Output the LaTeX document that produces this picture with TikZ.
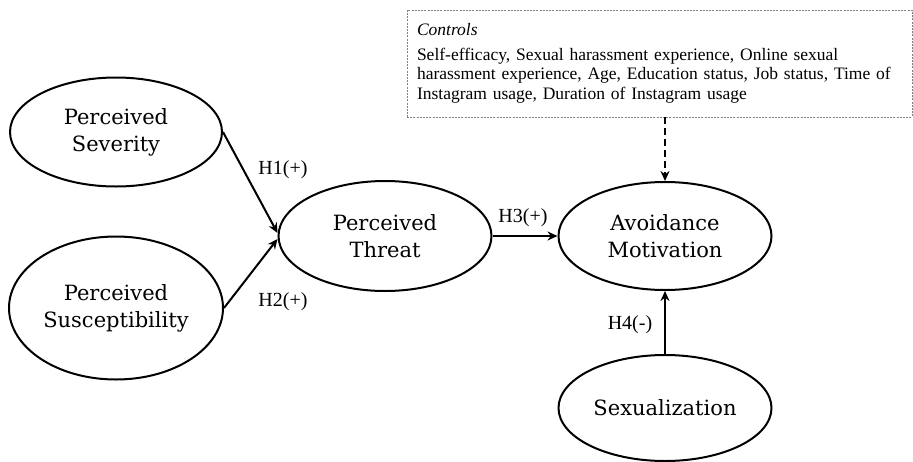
\documentclass[tikz,border=0pt]{standalone}
\usepackage{fontspec}
\setmainfont{Liberation Serif}
\newfontfamily\ovalfont{DejaVu Serif}
\usetikzlibrary{arrows.meta}
\usetikzlibrary{shapes.geometric}

\begin{document}
\begin{tikzpicture} [x=1pt, y=-1pt, line width=2pt, >={Stealth[length=10pt, width=9pt]},
  oval/.style={draw, ellipse, inner sep=0, align=center,
    font=\ovalfont\fontsize{21}{27}\selectfont},
  hyp/.style={font=\fontsize{20}{24}\selectfont, inner sep=1},
  ctrlbox/.style={draw=gray, line width=.8pt, dash pattern=on 2pt off 1.2pt,
    minimum width=505, minimum height=107, align=left, text width=485,
    font=\fontsize{17.5}{19.5}\selectfont}]
\useasboundingbox (0,0) rectangle (913,461);
% latent variables
\node[oval, minimum width=212, minimum height=109] (sev) at (116,132) {Perceived\\Severity};
\node[oval, minimum width=214, minimum height=143] (sus) at (116,308) {Perceived\\Susceptibility};
\node[oval, minimum width=213, minimum height=110] (thr) at (385,236) {Perceived\\Threat};
\node[oval, minimum width=213, minimum height=108] (avo) at (665,236) {Avoidance\\Motivation};
\node[oval, minimum width=213, minimum height=106] (sexz) at (665,408) {Sexualization};
\node[ctrlbox] (ctrl) at (659.5,63.5) {\textit{Controls}\\[5pt]
 Self-efficacy, Sexual harassment experience, Online sexual\\
 harassment experience, Age, Education status, Job status, Time of\\
 Instagram usage, Duration of Instagram usage};
% paths
\draw[->] (sev.east) -- ([yshift=3pt]thr.west);
\draw[->] (sus.east) -- ([yshift=-3pt]thr.west);
\draw[->] (thr.east) -- (avo.west);
\draw[->] (sexz.north) -- (avo.south);
\draw[->, dash pattern=on 7pt off 4pt] (avo.north |- ctrl.south) -- (avo.north);
\node[hyp] (h1) at (283,170) {H1(+)};
\node[hyp] (h2) at (283,302) {H2(+)};
\node[hyp] (h3) at (523,218) {H3(+)};
\node[hyp] (h4) at (630,325) {H4(-)};
\end{tikzpicture}
\end{document}
